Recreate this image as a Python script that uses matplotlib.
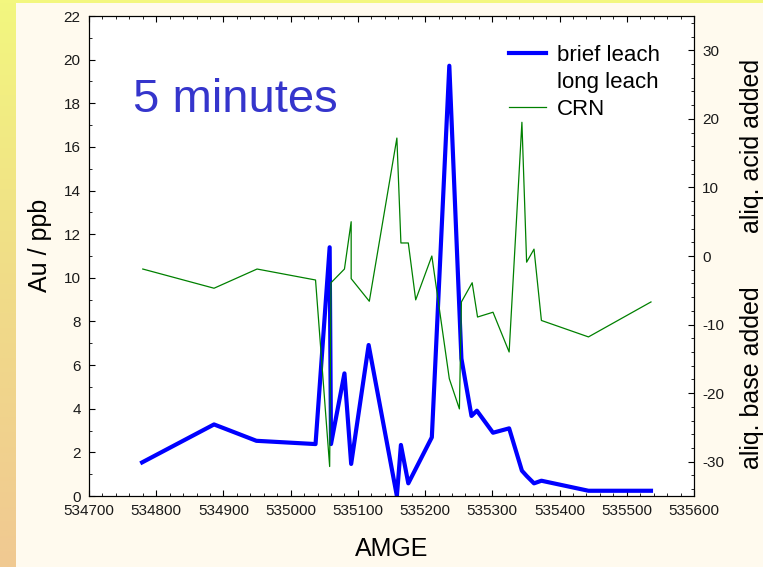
import matplotlib
matplotlib.use('Agg')
import matplotlib.pyplot as plt
import numpy as np
from matplotlib.colors import LinearSegmentedColormap
from matplotlib.ticker import MultipleLocator

plt.rcParams['font.family'] = ['Liberation Sans', 'DejaVu Sans']
plt.rcParams['axes.unicode_minus'] = False

# brief leach Au (ppb) along the AMGE traverse
amge_brief = [534779, 534886, 534949, 535037, 535058, 535060, 535080, 535090,
              535116, 535158, 535164, 535175, 535210, 535236, 535254, 535269,
              535277, 535301, 535325, 535344, 535351, 535362, 535373, 535443,
              535536]
au_brief = [1.54, 3.28, 2.53, 2.38, 11.4, 2.38, 5.62, 1.47,
            6.92, 0.0, 2.34, 0.58, 2.69, 19.72, 6.3, 3.67,
            3.91, 2.90, 3.10, 1.16, 0.92, 0.58, 0.70, 0.24,
            0.24]

# CRN: aliquots of acid (+) / base (-) added
amge_crn = [534780, 534886, 534950, 535037, 535058, 535060, 535080, 535090,
            535090, 535117, 535158, 535164, 535175, 535186, 535210, 535236,
            535251, 535254, 535270, 535278, 535301, 535325, 535344, 535351,
            535362, 535373, 535443, 535536]
crn = [-1.9, -4.7, -1.9, -3.5, -30.7, -3.9, -1.9, 5.0,
       -3.3, -6.6, 17.2, 1.9, 1.9, -6.4, 0.0, -17.9,
       -22.3, -6.7, -3.9, -8.9, -8.2, -14.0, 19.5, -0.9,
       1.0, -9.4, -11.8, -6.7]

fig = plt.figure(figsize=(7.63, 5.67), dpi=100, facecolor='#fffaee')

# slide decoration: yellow strip on top, yellow->orange strip on the left
band = fig.add_axes([0, 0, 16 / 763, 1])
grad = LinearSegmentedColormap.from_list('band', ['#f3f77f', '#f0dc88', '#f0c992'])
band.imshow(np.linspace(0, 1, 256).reshape(-1, 1), aspect='auto', cmap=grad)
band.axis('off')
top = fig.add_axes([0, 1 - 3 / 567, 1, 3 / 567])
top.set_facecolor('#f3f77f')
top.set_xticks([])
top.set_yticks([])
for s in top.spines.values():
    s.set_visible(False)

ax = fig.add_axes([89 / 763, 71 / 567, 605 / 763, 480 / 567])
ax.set_facecolor('white')
ax2 = ax.twinx()

l1, = ax.plot(amge_brief, au_brief, color='#0000ff', lw=3, label='brief leach',
              solid_joinstyle='round')
l2, = ax.plot([], [], color='none', label='long leach')
l3, = ax2.plot(amge_crn, crn, color='#008000', lw=0.9, label='CRN')

ax.set_xlim(534700, 535600)
ax.set_ylim(0, 22)
ax2.set_ylim(-35, 35)

ax.xaxis.set_major_locator(MultipleLocator(100))
ax.xaxis.set_minor_locator(MultipleLocator(20))
ax.yaxis.set_major_locator(MultipleLocator(2))
ax.yaxis.set_minor_locator(MultipleLocator(1))
ax2.yaxis.set_major_locator(MultipleLocator(10))
ax2.yaxis.set_minor_locator(MultipleLocator(2))

for a in (ax, ax2):
    a.tick_params(which='major', direction='in', length=4, width=0.8,
                  labelsize=11, labelcolor='#1a1a1a', pad=6)
    a.tick_params(which='minor', direction='in', length=2, width=0.6)
ax.tick_params(axis='x', which='both', top=True)
ax.tick_params(axis='y', which='both', right=False)

ax.set_xlabel('AMGE', fontsize=18)
ax.xaxis.set_label_coords(0.5, -0.085)
ax.set_ylabel('Au / ppb', fontsize=18)
ax.yaxis.set_label_coords(-0.081, 0.523)
ax.yaxis.label.set_va('center')

yt = ax2.get_yaxis_transform()
ax2.text(1.096, 16, 'aliq. acid added', rotation=90, fontsize=18,
         ha='center', va='center', transform=yt)
ax2.text(1.096, -17.7, 'aliq. base added', rotation=90, fontsize=18,
         ha='center', va='center', transform=yt)

ax.text(0.0722, 0.80, '5 minutes', transform=ax.transAxes, fontsize=34,
        color='#3535cc', ha='left', va='baseline')

ax2.legend(handles=[l1, l2, l3], loc='upper left', bbox_to_anchor=(0.694, 0.94),
           frameon=False, fontsize=16, borderpad=0, borderaxespad=0,
           handlelength=1.65, handletextpad=0.5, labelspacing=0.28)

fig.savefig('out.png', dpi=100, facecolor=fig.get_facecolor())
